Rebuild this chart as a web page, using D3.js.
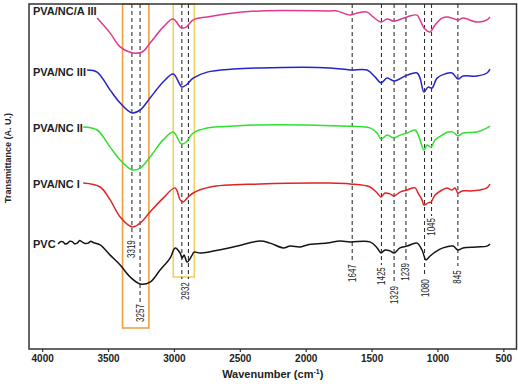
<!DOCTYPE html>
<html>
<head>
<meta charset="utf-8">
<script src="https://cdn.jsdelivr.net/npm/d3@7"></script>
<style>
  body { margin: 0; background: #fff; }
  svg { display: block; font-family: "Liberation Sans", Arial, sans-serif; }
</style>
</head>
<body>
<div id="chart"></div>
<script>
// FTIR spectra, [wavenumber (cm-1), transmittance (A.U.)]
const pvaNcA3 = [[3583,110.3],[3484,105.3],[3408,100.7],[3310,98.7],[3241,99],[3181,102],[3082,107.3],[3006,110],[2953,107.3],[2938,107],[2907,107.3],[2854,109.7],[2748,110.7],[2551,112],[2346,112.7],[1815,112.7],[1762,112.7],[1663,111.3],[1610,112],[1534,112.3],[1489,110.7],[1428,109],[1382,110],[1329,109.3],[1231,110.7],[1155,111.3],[1132,109.7],[1102,107],[1056,105.7],[1018,108],[965,110.3],[920,110.7],[844,109.7],[806,110.3],[700,109],[624,109.7],[601,110.7]]
const pvaNc3 = [[3659,93],[3583,92.3],[3484,86.3],[3408,82],[3317,78.7],[3256,79.7],[3181,83.7],[3082,89],[3006,91.7],[2953,88],[2938,87.3],[2907,88],[2854,90.3],[2748,92.3],[2551,93.3],[2346,93.7],[1815,93.7],[1663,93],[1534,93],[1474,90.7],[1428,88.7],[1382,90.3],[1329,89.3],[1231,91.3],[1155,92],[1132,90.3],[1102,85.7],[1071,87.3],[1041,87],[1003,90.3],[942,91.7],[889,92],[844,90],[806,91],[700,91],[624,92],[601,93.3]]
const pvaNc2 = [[3689,74],[3583,73],[3484,67.3],[3408,63],[3317,59.7],[3256,60.3],[3181,64],[3082,69.7],[3006,72.3],[2953,68.7],[2938,68.3],[2907,69],[2854,72],[2748,73.7],[2551,74.3],[2346,74.7],[1739,74.3],[1512,73.7],[1458,72],[1428,70],[1382,71.3],[1329,70.3],[1284,71.3],[1231,72],[1170,73],[1140,70.7],[1102,66.3],[1079,68],[1049,67.3],[1018,69.7],[965,71.3],[920,72.3],[882,72.3],[844,71],[806,72],[700,72.3],[624,73.7],[601,74.3]]
const pvaNc1 = [[3689,55.3],[3560,54],[3484,49.7],[3408,44],[3317,40.7],[3256,42],[3181,45.7],[3082,50.3],[2991,53.7],[2953,49.7],[2930,49],[2900,50.3],[2854,52],[2725,54],[2346,55],[1815,55.3],[1663,55],[1512,54],[1458,52],[1428,50.7],[1398,52],[1360,51.7],[1329,51],[1284,52.3],[1231,53],[1170,53.7],[1147,52],[1117,49.7],[1102,48],[1071,48.7],[1049,49],[1018,51.3],[965,53],[927,53.7],[889,53],[867,53.7],[844,52],[813,52.7],[753,52.7],[677,53],[624,53.7],[601,55]]
const pvc = [[3879,35],[3860,35.8],[3841,35.7],[3825,35],[3810,35.2],[3790,35.9],[3772,35.8],[3755,35.1],[3734,35.3],[3715,36.2],[3697,35.7],[3675,35.2],[3651,35.3],[3630,35.9],[3613,35.5],[3560,34.7],[3484,31.3],[3408,28],[3332,24],[3256,21.7],[3181,22.3],[3105,26.3],[3029,30.3],[2991,33.7],[2953,32],[2938,30.3],[2923,31.3],[2900,29],[2862,31.3],[2847,32.3],[2801,32],[2551,34],[2346,36],[2270,35.3],[2171,33.7],[2118,34.3],[2043,34],[1989,34.7],[1838,35.3],[1739,36],[1663,35.7],[1512,35.7],[1458,33.7],[1428,32],[1398,33],[1360,32.7],[1329,32],[1284,33.7],[1231,34.3],[1155,35.3],[1117,33],[1087,29.7],[1056,31],[1018,32.3],[958,33.7],[882,34.3],[844,33],[806,33.7],[700,34],[624,34.3],[601,35]]

const seriesNames = ['PVA/NC/A III', 'PVA/NC III', 'PVA/NC II', 'PVA/NC I', 'PVC']
const seriesLabelAt = [112.7, 92.3, 73.7, 55, 35]
const xTicks = [4000, 3500, 3000, 2500, 2000, 1500, 1000, 500]

// dashed peak markers: wavenumber and where the dash stops
const peakLines = [3319, 3257, 2940, 2890, 1647, 1425, 1329, 1239, 1098, 1045, 845]
const peakLineEnds = [37, 15.7, 23.3, 23.3, 29, 28, 21.7, 29.3, 24, 44.3, 27.7]
// peak labels: text, wavenumber, height (A.U.)
const peakLabels = ['3319', '3257', '2932', '1647', '1425', '1329', '1239', '1080', '1045', '845']
const peakLabelWave = [3319, 3257, 2915, 1647, 1425, 1329, 1239, 1093, 1045, 845]
const peakLabelAt = [33.3, 12, 19.3, 25.3, 24.3, 18, 25.7, 20.3, 40.7, 24]

// highlight boxes [from, to] in cm-1 and bottom (A.U.)
const boxRanges = [[3390, 3190], [3005, 2845]]
const boxBottoms = [7, 24]

const width = 518
const height = 384

const x = d3.scaleLinear().domain([4100, 400]).range([29, 516.5])
const y = d3.scaleLinear().domain([0, 115]).range([349, 4])

const colors = ['#e0388e', '#2424c8', '#2fe02f', '#e02424', '#151515']
const boxColors = ['#eea040', '#f2d060']

const svg = d3.select('#chart')
  .append('svg')
    .attr('width', width)
    .attr('height', height)

// boxes
svg.append('g')
  .selectAll('rect')
  .data(boxRanges).enter()
  .append('rect')
    .attr('x', d => x(d[0]))
    .attr('y', y(115))
    .attr('width', d => x(d[1]) - x(d[0]))
    .attr('height', (d, i) => y(boxBottoms[i]) - y(115))
    .attr('fill', 'none')
    .attr('stroke', (d, i) => boxColors[i])
    .attr('stroke-width', 1.6)

// dashed lines
svg.append('g')
  .selectAll('line')
  .data(peakLines).enter()
  .append('line')
    .attr('x1', d => x(d))
    .attr('x2', d => x(d))
    .attr('y1', y(115))
    .attr('y2', (d, i) => y(peakLineEnds[i]))
    .attr('stroke', '#333')
    .attr('stroke-width', 1.1)
    .attr('stroke-dasharray', '4,3')

// condensed look: squeeze the rotated labels along their length
svg.append('g')
  .selectAll('text')
  .data(peakLabels).enter()
  .append('text')
    .text(d => d)
    .attr('transform', (d, i) => `translate(${x(peakLabelWave[i])},${y(peakLabelAt[i])})rotate(-90)scale(0.8,1)`)
    .attr('text-anchor', 'middle')
    .attr('dy', '0.35em')
    .attr('font-size', 10)
    .attr('fill', '#222')

// spectra
const line = d3.line()
  .x(d => x(d[0]))
  .y(d => y(d[1]))
  .curve(d3.curveCatmullRom.alpha(0.5))

const spectra = [pvaNcA3, pvaNc3, pvaNc2, pvaNc1, pvc]
svg.append('g')
  .selectAll('path')
  .data(spectra).enter()
  .append('path')
    .attr('d', line)
    .attr('fill', 'none')
    .attr('stroke', (d, i) => colors[i])
    .attr('stroke-width', 1.5)

svg.append('g')
  .selectAll('text')
  .data(seriesNames).enter()
  .append('text')
    .text(d => d)
    .attr('x', x.range()[0] + 4)
    .attr('y', (d, i) => y(seriesLabelAt[i]))
    .attr('dy', '0.35em')
    .attr('font-size', 11)
    .attr('font-weight', 'bold')
    .attr('fill', '#222')

// frame
svg.append('rect')
  .attr('x', x.range()[0])
  .attr('y', y.range()[1])
  .attr('width', x.range()[1] - x.range()[0])
  .attr('height', y.range()[0] - y.range()[1])
  .attr('fill', 'none')
  .attr('stroke', '#333')
  .attr('stroke-width', 1.5)

const xAxis = d3.axisBottom(x).tickValues(xTicks).tickFormat(d3.format('d')).tickSize(3).tickPadding(3)
svg.append('g')
    .attr('transform', `translate(0, ${y.range()[0]})`)
    .call(xAxis)
    .call(g => g.select('.domain').remove())
    .call(g => g.selectAll('.tick line').attr('stroke', '#333').attr('stroke-width', 1.2))
    .call(g => g.selectAll('.tick text')
      .attr('font-family', '"Liberation Sans", Arial, sans-serif')
      .attr('font-size', 10)
      .attr('font-weight', 'bold')
      .attr('fill', '#222'))

const xTitle = svg.append('text')
  .attr('x', (x.range()[0] + x.range()[1]) / 2)
  .attr('y', 378)
  .attr('text-anchor', 'middle')
  .attr('font-size', 11)
  .attr('font-weight', 'bold')
  .attr('fill', '#222')
xTitle.append('tspan').text('Wavenumber (cm')
xTitle.append('tspan').text('-1').attr('font-size', 7).attr('dy', -4)
xTitle.append('tspan').text(')').attr('dy', 4)

svg.append('text')
  .text('Transmittance (A. U.)')
  .attr('transform', `translate(8, 158)rotate(-90)`)
  .attr('text-anchor', 'middle')
  .attr('dy', '0.35em')
  .attr('font-size', 9)
  .attr('font-weight', 'bold')
  .attr('fill', '#222')
</script>
</body>
</html>
